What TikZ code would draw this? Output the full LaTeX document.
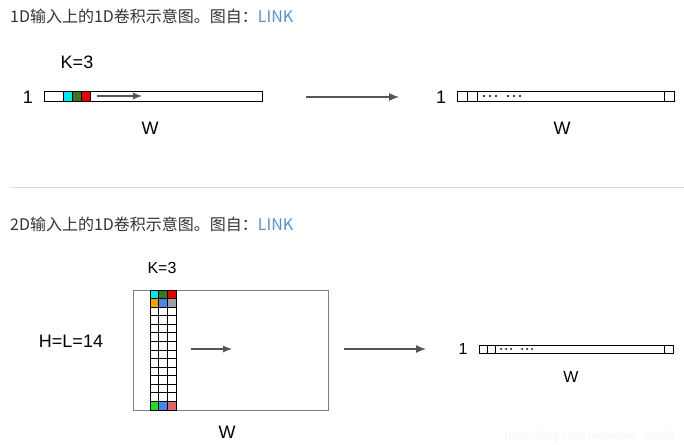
\documentclass[tikz,border=0pt]{standalone}
\usepackage{fontspec}
\setmainfont{Liberation Sans}
\newfontfamily\cjkfont{Noto Sans CJK SC}
\usetikzlibrary{arrows.meta}
\definecolor{titlegray}{HTML}{333333}
\definecolor{linkblue}{HTML}{5B8FC7}
\definecolor{arrowgray}{HTML}{555555}
\definecolor{rulegray}{HTML}{DDDDDD}
\definecolor{framegray}{HTML}{808080}
\definecolor{kcyan}{HTML}{00E8F0}
\definecolor{kdarkgreen}{HTML}{3A7526}
\definecolor{kred}{HTML}{E80000}
\definecolor{korange}{HTML}{F5A000}
\definecolor{kblue}{HTML}{4A86E8}
\definecolor{kgray}{HTML}{A0A0A0}
\definecolor{kgreen}{HTML}{22DD22}
\definecolor{kpink}{HTML}{E06666}
\tikzset{
    caption text/.style={font=\cjkfont\fontsize{16}{19}\selectfont, text=titlegray, anchor=west, inner sep=0pt},
    big label/.style={font=\fontsize{18}{20}\selectfont, inner sep=0pt},
    small label/.style={font=\fontsize{16}{18}\selectfont, inner sep=0pt},
    cell/.style={draw=black, line width=0.9pt},
    flow arrow/.style={draw=arrowgray, line width=1.3pt, -{Latex[length=10pt, width=8pt]}},
    slide arrow/.style={draw=arrowgray, line width=1.1pt, -{Latex[length=9pt, width=7pt]}},
}

\begin{document}
\begin{tikzpicture}[x=1pt, y=-1pt]
    % Canvas
    \clip (0,0) rectangle (684,444);
    \fill[white] (0,0) rectangle (684,444);

    % Captions
    \node[caption text] (CAP1) at (10,16) {1D输入上的1D卷积示意图。图自：\textcolor{linkblue}{LINK}};
    \node[caption text] (CAP2) at (10,224) {2D输入上的1D卷积示意图。图自：\textcolor{linkblue}{LINK}};

    % Separator
    \coordinate (SEP_W) at (10,187);
    \coordinate (SEP_E) at (684,187);
    \draw[rulegray, line width=1pt] (SEP_W) -- (SEP_E);

    %% ---------- 1D input ----------
    \pgfmathsetmacro{\barTop}{91}
    \pgfmathsetmacro{\barBot}{101}
    \pgfmathsetmacro{\cellW}{9}

    % Input row
    \draw[cell] (44,\barTop) rectangle (262,\barBot);
    \foreach \c [count=\i from 0] in {kcyan, kdarkgreen, kred}
        \filldraw[cell, fill=\c] (63+\i*\cellW,\barTop) rectangle ++(\cellW,10);
    \coordinate (SLIDE1_W) at (97,96);
    \coordinate (SLIDE1_E) at (142,96);
    \draw[slide arrow] (SLIDE1_W) -- (SLIDE1_E);
    \node[big label] (K1) at (77,62) {K=3};
    \node[big label] (ONE1) at (28,97) {1};
    \node[big label] (W1) at (150,128) {W};

    % Map arrow
    \coordinate (MAP1_W) at (306,97);
    \coordinate (MAP1_E) at (399,97);
    \draw[flow arrow] (MAP1_W) -- (MAP1_E);

    % Output row
    \draw[cell] (457,\barTop) rectangle (674,\barBot);
    \draw[cell] (467,\barTop) -- (467,\barBot);
    \draw[cell] (477,\barTop) -- (477,\barBot);
    \draw[cell] (664,\barTop) -- (664,\barBot);
    \foreach \x in {484,490,496,508,514,520}
        \fill[black] (\x,96) circle (1.1);
    \node[big label] (ONE2) at (441,97) {1};
    \node[big label] (W2) at (562,128) {W};

    %% ---------- 2D input ----------
    \pgfmathsetmacro{\gridX}{150}
    \pgfmathsetmacro{\gridY}{290}
    \pgfmathsetmacro{\gw}{26/3}
    \pgfmathsetmacro{\gh}{120/14}

    % Input plane
    \draw[framegray, line width=1pt] (133,290) rectangle (328,410);

    % Kernel column
    \foreach \c [count=\i from 0] in {kcyan, kdarkgreen, kred}
        \fill[\c] (\gridX+\i*\gw,\gridY) rectangle ++(\gw,\gh);
    \foreach \c [count=\i from 0] in {korange, kblue, kgray}
        \fill[\c] (\gridX+\i*\gw,\gridY+\gh) rectangle ++(\gw,\gh);
    \foreach \c [count=\i from 0] in {kgreen, kblue, kpink}
        \fill[\c] (\gridX+\i*\gw,\gridY+13*\gh) rectangle ++(\gw,\gh);
    \foreach \r in {0,...,13}
        \foreach \i in {0,1,2}
            \draw[cell] (\gridX+\i*\gw,\gridY+\r*\gh) rectangle ++(\gw,\gh);

    \coordinate (SLIDE2_W) at (191,349);
    \coordinate (SLIDE2_E) at (232,349);
    \draw[slide arrow] (SLIDE2_W) -- (SLIDE2_E);
    \node[small label] (K2) at (162,268) {K=3};
    \node[big label] (HL) at (71,341) {H=L=14};
    \node[big label] (W3) at (227,432) {W};

    % Map arrow
    \coordinate (MAP2_W) at (344,349);
    \coordinate (MAP2_E) at (426,349);
    \draw[flow arrow] (MAP2_W) -- (MAP2_E);

    % Output row
    \draw[cell] (479,345) rectangle (673,353);
    \draw[cell] (487,345) -- (487,353);
    \draw[cell] (495,345) -- (495,353);
    \draw[cell] (664,345) -- (664,353);
    \foreach \x in {501,506,511,522,527,532}
        \fill[black] (\x,349) circle (1);
    \node[small label] (ONE3) at (463,349) {1};
    \node[small label] (W4) at (571,377) {W};

    % Watermark
    \node[anchor=west, inner sep=0pt, text=black!4, font=\fontsize{11}{12}\selectfont] (MARK) at (505,437) {https://blog.csdn.net/weixin\_39653};
\end{tikzpicture}
\end{document}
